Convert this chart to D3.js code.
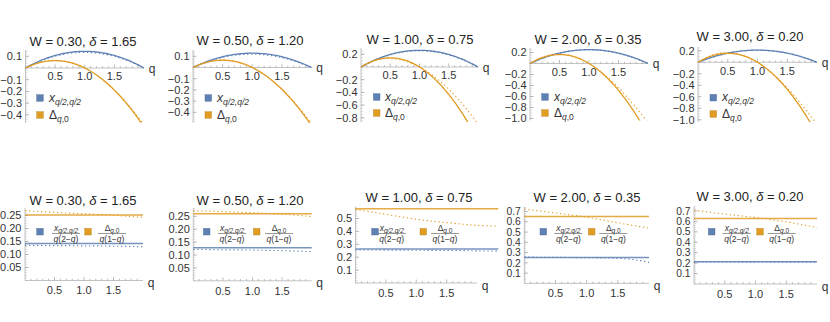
<!DOCTYPE html>
<html lang="en">
<head>
<meta charset="UTF-8">
<title>W / delta panels</title>
<script src="https://d3js.org/d3.v7.min.js"></script>
<style>
  body { margin: 0; background: #fff; }
  text { font-family: "Liberation Sans", Arial, sans-serif; fill: #333; }
</style>
</head>
<body>
<div id="chart"></div>
<script>
// ---- data ----
const wVals = ["0.30", "0.50", "1.00", "2.00", "3.00"];
const deltaVals = ["1.65", "1.20", "0.75", "0.35", "0.20"];
const qSamples = [0, 0.25, 0.5, 0.75, 1, 1.25, 1.5, 1.75, 2];

// fitted constants (solid lines of the lower row)
const blueFit = [0.1425, 0.128, 0.263, 0.252, 0.212];
const orangeFit = [0.252, 0.26, 0.576, 0.651, 0.627];
// how far (in q) the lower-row lines run
const lineEnd = [2, 2, 2.35, 2, 2];

// numerical ratios (dotted lines of the lower row), at qSamples
const blueNum = [
  [0.135, 0.135, 0.134, 0.134, 0.133, 0.133, 0.132, 0.131, 0.130],
  [0.121, 0.121, 0.120, 0.120, 0.119, 0.118, 0.117, 0.115, 0.113],
  [0.256, 0.256, 0.255, 0.255, 0.254, 0.253, 0.252, 0.251, 0.249],
  [0.256, 0.255, 0.254, 0.252, 0.250, 0.248, 0.244, 0.232, 0.205],
  [0.211, 0.211, 0.211, 0.210, 0.210, 0.210, 0.209, 0.209, 0.208]
];
const orangeNum = [
  [0.268, 0.265, 0.262, 0.259, 0.257, 0.254, 0.251, 0.247, 0.243],
  [0.271, 0.270, 0.268, 0.266, 0.264, 0.261, 0.258, 0.254, 0.249],
  [0.572, 0.552, 0.532, 0.513, 0.495, 0.480, 0.468, 0.457, 0.447],
  [0.723, 0.705, 0.686, 0.666, 0.645, 0.618, 0.590, 0.564, 0.538],
  [0.707, 0.688, 0.669, 0.653, 0.637, 0.617, 0.595, 0.568, 0.540]
];
// extra tail points of the lower-row dotted lines past q = 2 (panel 3 only)
const blueTail = [[], [], [[2.35, 0.247]], [], []];
const orangeTail = [[], [], [[2.35, 0.441]], [], []];

const qTicks = [0.5, 1.0, 1.5];
const topTicks = [
  [0.1, -0.1, -0.2, -0.3, -0.4],
  [0.1, -0.1, -0.2, -0.3, -0.4],
  [0.2, -0.2, -0.4, -0.6, -0.8],
  [0.2, -0.2, -0.4, -0.6, -0.8, -1.0],
  [0.2, -0.2, -0.4, -0.6, -0.8, -1.0]
];
const topMinor = [0.02, 0.02, 0.05, 0.05, 0.05];
const botTicks = [
  [0.05, 0.10, 0.15, 0.20, 0.25],
  [0.05, 0.10, 0.15, 0.20, 0.25],
  [0.1, 0.2, 0.3, 0.4, 0.5],
  [0.1, 0.2, 0.3, 0.4, 0.5, 0.6, 0.7],
  [0.1, 0.2, 0.3, 0.4, 0.5, 0.6, 0.7]
];
const botDigits = [2, 2, 1, 1, 1];
const botMinor = [0.01, 0.01, 0.02, 0.02, 0.02];

// ---- layout (pixels) ----
const topLayout = [
  {cx: 83,  ty: 41,   x0: 25.5, x2: 144,   y0: 68,   k: 117,  yt: 50, yb: 122.5, sq: 40,    lx: 49,  ly: [98, 115]},
  {cx: 250, ty: 40,   x0: 193,  x2: 311.5, y0: 67.5, k: 112,  yt: 50, yb: 123,   sq: 208.3, lx: 217, ly: [98, 115]},
  {cx: 420, ty: 39.3, x0: 361,  x2: 478,   y0: 67,   k: 63.5, yt: 48, yb: 122,   sq: 376.7, lx: 385, ly: [97, 113]},
  {cx: 588, ty: 39.3, x0: 530,  x2: 648,   y0: 63.5, k: 55,   yt: 48, yb: 120.5, sq: 545,   lx: 554, ly: [97, 113]},
  {cx: 750, ty: 36.7, x0: 698,  x2: 817,   y0: 62.3, k: 57.5, yt: 47, yb: 122,   sq: 713.3, lx: 722, ly: [97.7, 114]}
];
const botLayout = [
  {cx: 83,  ty: 200,   x0: 25,    x2: 143,   y0: 280.5, k: 260,   yt: 208,   fs: 11,   ly: 231.7, sq1: 40,    f1: 66,    sq2: 88,    f2: 112},
  {cx: 250, ty: 200,   x0: 193.3, x2: 311.7, y0: 280.8, k: 258,   yt: 208.3, fs: 11,   ly: 231.7, sq1: 206.7, f1: 232,   sq2: 256.7, f2: 279},
  {cx: 419, ty: 197.3, x0: 355.5, x2: 477,   y0: 283,   k: 129,   yt: 206.7, fs: 11,   ly: 231.7, sq1: 375,   f1: 391.7, sq2: 423.3, f2: 445},
  {cx: 587, ty: 197.3, x0: 524.3, x2: 649,   y0: 283.4, k: 102.7, yt: 206.7, fs: 10.3, ly: 231.7, sq1: 543.3, f1: 568.3, sq2: 591.7, f2: 613.3},
  {cx: 750, ty: 196.7, x0: 694,   x2: 817,   y0: 284,   k: 104.4, yt: 206.7, fs: 10.3, ly: 231.7, sq1: 711.7, f1: 736.7, sq2: 760,   f2: 781.7}
];

const BLUE = "#5e81b5", ORANGE = "#e19c24";
const AXIS = "#b5b5b5";
const DOTS = "1.3,2.7";

const svg = d3.select("#chart").append("svg")
  .attr("width", 830).attr("height", 322);
const defs = svg.append("defs");

const qFine = d3.range(0, 2.0001, 0.02);
const fmt = v => (v < 0 ? "\u2212" : "") + Math.abs(v).toFixed(1);

function title(g, i, cx, cy) {
  const t = g.append("text").attr("x", cx).attr("y", cy + 4.6)
    .attr("text-anchor", "middle").style("font-size", "13px").style("fill", "#222");
  t.append("tspan").text(`W = ${wVals[i]}, `);
  t.append("tspan").style("font-style", "italic").text("\u03b4");
  t.append("tspan").text(` = ${deltaVals[i]}`);
}

function xAxis(g, x, yPix, x0, x2) {
  g.append("line").attr("x1", x0).attr("x2", x2).attr("y1", yPix).attr("y2", yPix)
    .attr("stroke", AXIS).attr("stroke-width", 0.8);
  g.selectAll(null).data(d3.range(0.1, 1.96, 0.1)).join("line")
    .attr("x1", d => x(d)).attr("x2", d => x(d))
    .attr("y1", yPix).attr("y2", d => yPix - (Math.abs(d * 2 - Math.round(d * 2)) < 1e-6 ? 3.5 : 1.8))
    .attr("stroke", "#a0a0a0").attr("stroke-width", 0.7);
}

function yAxis(g, y, xPix, yt, yb, ticks, minor, f, fs) {
  g.append("line").attr("x1", xPix).attr("x2", xPix).attr("y1", yt).attr("y2", yb)
    .attr("stroke", AXIS).attr("stroke-width", 0.8);
  const lo = y.invert(yb), hi = y.invert(yt);
  const minors = d3.range(Math.ceil(lo / minor) * minor, hi, minor);
  g.selectAll(null).data(minors).join("line")
    .attr("x1", xPix).attr("x2", xPix + 1.8)
    .attr("y1", d => y(d)).attr("y2", d => y(d))
    .attr("stroke", "#b8b8b8").attr("stroke-width", 0.6);
  g.selectAll(null).data(ticks).join("line")
    .attr("x1", xPix).attr("x2", xPix + 3.5)
    .attr("y1", d => y(d)).attr("y2", d => y(d))
    .attr("stroke", "#999").attr("stroke-width", 0.7);
  g.selectAll(null).data(ticks).join("text")
    .attr("x", xPix - 3.5).attr("y", d => y(d) + fs * 0.355)
    .attr("text-anchor", "end").style("font-size", fs + "px")
    .text(f);
}

function qTickLabels(g, x, yc) {
  g.selectAll(null).data(qTicks).join("text")
    .attr("x", d => x(d)).attr("y", yc + 3.9)
    .attr("text-anchor", "middle").style("font-size", "11px")
    .text(d => d.toFixed(1));
}

// ---------- top row ----------
topLayout.forEach((L, i) => {
  const g = svg.append("g");
  const x = d3.scaleLinear().domain([0, 2]).range([L.x0, L.x2]);
  const y = d3.scaleLinear().domain([0, 1]).range([L.y0, L.y0 - L.k]);

  title(g, i, L.cx, L.ty);
  xAxis(g, x, L.y0, L.x0, L.x2);
  yAxis(g, y, L.x0, L.yt, L.yb, topTicks[i], topMinor[i], fmt, 11);
  qTickLabels(g, x, L.y0 + 8.5);
  g.append("text").attr("x", L.x2 + 8).attr("y", L.y0 + 4.5)
    .attr("text-anchor", "middle").style("font-size", "12px").text("q");

  const cid = "clipT" + i;
  defs.append("clipPath").attr("id", cid).append("rect")
    .attr("x", L.x0 - 2).attr("y", L.yt - 6).attr("width", L.x2 - L.x0 + 4).attr("height", L.yb - L.yt + 6);
  const pg = g.append("g").attr("clip-path", `url(#${cid})`);

  const line = d3.line().x(d => x(d[0])).y(d => y(d[1]));
  const lineS = d3.line().x(d => x(d[0])).y(d => y(d[1])).curve(d3.curveNatural);

  // numerical (dotted)
  pg.append("path").datum(qSamples.map((q, j) => [q, blueNum[i][j] * q * (2 - q)]))
    .attr("d", lineS).attr("fill", "none").attr("stroke", BLUE)
    .attr("stroke-width", 1.1).attr("stroke-dasharray", DOTS);
  pg.append("path").datum(qSamples.map((q, j) => [q, orangeNum[i][j] * q * (1 - q)]))
    .attr("d", lineS).attr("fill", "none").attr("stroke", ORANGE)
    .attr("stroke-width", 1.1).attr("stroke-dasharray", DOTS);
  // fits (solid)
  pg.append("path").datum(qFine.map(q => [q, blueFit[i] * q * (2 - q)]))
    .attr("d", line).attr("fill", "none").attr("stroke", BLUE).attr("stroke-width", 1.3);
  pg.append("path").datum(qFine.map(q => [q, orangeFit[i] * q * (1 - q)]))
    .attr("d", line).attr("fill", "none").attr("stroke", ORANGE).attr("stroke-width", 1.3);

  // legend
  [BLUE, ORANGE].forEach((c, j) => {
    g.append("rect").attr("x", L.sq - 3.3).attr("y", L.ly[j] - 3.3)
      .attr("width", 6.6).attr("height", 6.6).attr("fill", c)
      .attr("stroke", d3.color(c).darker(0.6)).attr("stroke-width", 0.4);
  });
  const t1 = g.append("text").attr("x", L.lx).attr("y", L.ly[0] + 3.5).style("font-size", "12px");
  t1.append("tspan").style("font-style", "italic").text("x");
  t1.append("tspan").attr("dy", 3).style("font-size", "8.5px").style("font-style", "italic").text("q/2,q/2");
  const t2 = g.append("text").attr("x", L.lx).attr("y", L.ly[1] + 4).style("font-size", "12px");
  t2.append("tspan").text("\u0394");
  const sub = t2.append("tspan").attr("dy", 3).style("font-size", "8.5px");
  sub.append("tspan").style("font-style", "italic").text("q");
  sub.append("tspan").text(",0");
});

// ---------- bottom row ----------
function fraction(g, cx, cy, num, den) {
  const n = g.append("text").attr("x", cx).attr("y", cy - 2).attr("text-anchor", "middle")
    .style("font-size", "8.5px");
  num(n);
  g.append("line").attr("x1", cx - 14).attr("x2", cx + 14).attr("y1", cy + 0.8).attr("y2", cy + 0.8)
    .attr("stroke", "#555").attr("stroke-width", 0.6);
  const d = g.append("text").attr("x", cx).attr("y", cy + 9).attr("text-anchor", "middle")
    .style("font-size", "8.5px");
  den(d);
}

botLayout.forEach((L, i) => {
  const g = svg.append("g");
  const x = d3.scaleLinear().domain([0, 2]).range([L.x0, L.x2]);
  const y = d3.scaleLinear().domain([0, 1]).range([L.y0, L.y0 - L.k]);

  title(g, i, L.cx, L.ty);
  xAxis(g, x, L.y0, L.x0, L.x2);
  yAxis(g, y, L.x0, L.yt, L.y0, botTicks[i], botMinor[i], d => d.toFixed(botDigits[i]), L.fs);
  qTickLabels(g, x, L.y0 + 9.8);
  g.append("text").attr("x", L.x2 + 8).attr("y", L.y0 + 6.5)
    .attr("text-anchor", "middle").style("font-size", "12px").text("q");

  const lineS = d3.line().x(d => x(d[0])).y(d => y(d[1])).curve(d3.curveNatural);
  const line = d3.line().x(d => x(d[0])).y(d => y(d[1]));

  g.append("path").datum(qSamples.map((q, j) => [q, blueNum[i][j]]).concat(blueTail[i]))
    .attr("d", lineS).attr("fill", "none").attr("stroke", BLUE)
    .attr("stroke-width", 1.1).attr("stroke-dasharray", DOTS);
  g.append("path").datum(qSamples.map((q, j) => [q, orangeNum[i][j]]).concat(orangeTail[i]))
    .attr("d", lineS).attr("fill", "none").attr("stroke", ORANGE)
    .attr("stroke-width", 1.1).attr("stroke-dasharray", DOTS);
  g.append("path").datum([[0, blueFit[i]], [lineEnd[i], blueFit[i]]])
    .attr("d", line).attr("fill", "none").attr("stroke", BLUE).attr("stroke-width", 1.5).attr("stroke-opacity", 0.85);
  g.append("path").datum([[0, orangeFit[i]], [lineEnd[i], orangeFit[i]]])
    .attr("d", line).attr("fill", "none").attr("stroke", ORANGE).attr("stroke-width", 1.5).attr("stroke-opacity", 0.85);

  // legend
  [[L.sq1, BLUE], [L.sq2, ORANGE]].forEach(([sx, c]) => {
    g.append("rect").attr("x", sx - 3.3).attr("y", L.ly - 3.3)
      .attr("width", 6.6).attr("height", 6.6).attr("fill", c)
      .attr("stroke", d3.color(c).darker(0.6)).attr("stroke-width", 0.4);
  });
  fraction(g, L.f1, L.ly + 1,
    t => {
      t.append("tspan").style("font-style", "italic").text("x");
      t.append("tspan").attr("dy", 2).style("font-size", "6.5px").style("font-style", "italic").text("q/2,q/2");
    },
    t => {
      t.append("tspan").style("font-style", "italic").text("q");
      t.append("tspan").text("(2\u2212");
      t.append("tspan").style("font-style", "italic").text("q");
      t.append("tspan").text(")");
    });
  fraction(g, L.f2, L.ly + 1,
    t => {
      t.append("tspan").text("\u0394");
      t.append("tspan").attr("dy", 2).style("font-size", "6.5px").style("font-style", "italic").text("q");
      t.append("tspan").style("font-size", "6.5px").text(",0");
    },
    t => {
      t.append("tspan").style("font-style", "italic").text("q");
      t.append("tspan").text("(1\u2212");
      t.append("tspan").style("font-style", "italic").text("q");
      t.append("tspan").text(")");
    });
});
</script>
</body>
</html>
